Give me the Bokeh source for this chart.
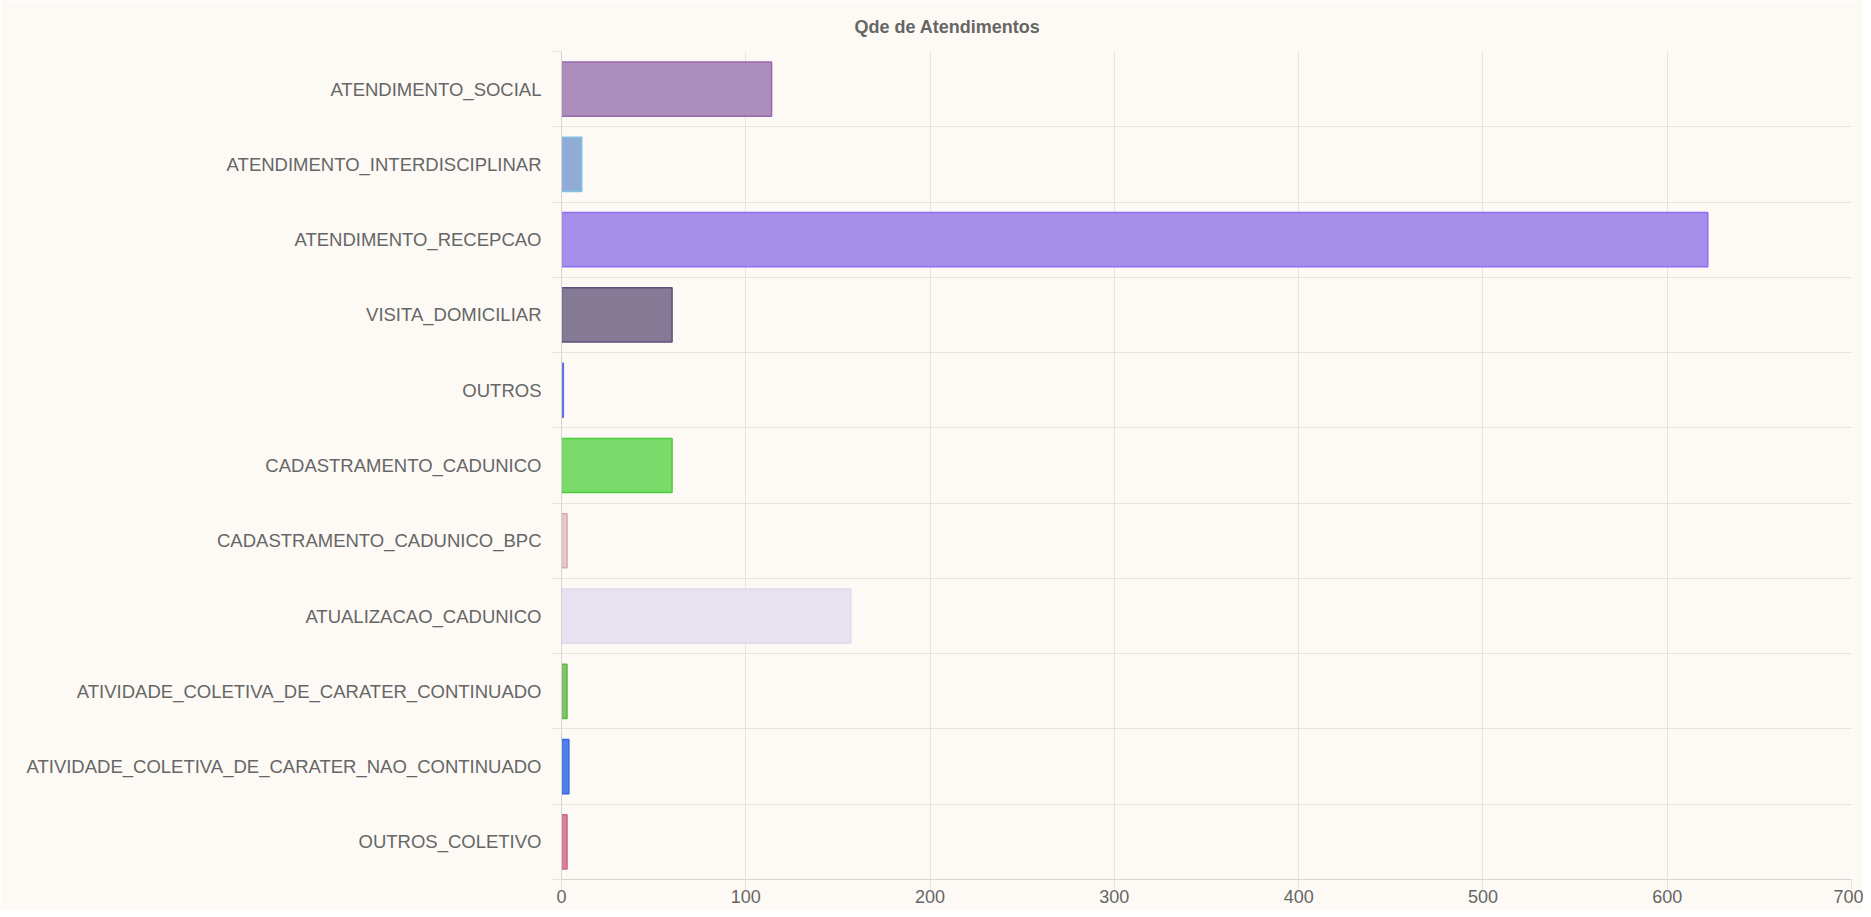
from bokeh.plotting import figure
from bokeh.models import ColumnDataSource, Range1d, FixedTicker, Title
from bokeh.embed import file_html
from bokeh.resources import INLINE

title_text = "Qde de Atendimentos"
categories = [
    "ATENDIMENTO_SOCIAL",
    "ATENDIMENTO_INTERDISCIPLINAR",
    "ATENDIMENTO_RECEPCAO",
    "VISITA_DOMICILIAR",
    "OUTROS",
    "CADASTRAMENTO_CADUNICO",
    "CADASTRAMENTO_CADUNICO_BPC",
    "ATUALIZACAO_CADUNICO",
    "ATIVIDADE_COLETIVA_DE_CARATER_CONTINUADO",
    "ATIVIDADE_COLETIVA_DE_CARATER_NAO_CONTINUADO",
    "OUTROS_COLETIVO",
]
values = [114, 11, 622, 60, 1, 60, 3, 157, 3, 4, 3]
fill_colors = ["#ad8dbb", "#90acd4", "#a58ee9", "#857a96", "#7f8fe0", "#7adb6a",
               "#e8c8cc", "#e6e2ef", "#80c46a", "#4f7fea", "#d9809c"]
line_colors = ["#9868b0", "#7ec3e6", "#8e6ef5", "#5c5078", "#5a6fe0", "#4ccc3c",
               "#d8a8b4", "#dedaea", "#60b848", "#3a66e0", "#c86888"]
x_ticks = [0, 100, 200, 300, 400, 500, 600, 700]

BG = "#fdfaf5"
GRID = "#e6e3de"
AXIS = "#d6d4d0"
TXT = "#666666"
FONT = "Liberation Sans"

n = len(categories)
# row index: first category at top
rows = [n - 1 - i for i in range(n)]
centers = list(range(n))
boundaries = [c - 0.5 for c in centers] + [n - 0.5]

src = ColumnDataSource(dict(row=rows, cat=categories, val=values, fill=fill_colors, line=line_colors))

p = figure(width=1863, height=910, output_backend="svg", toolbar_location=None,
           y_range=Range1d(-0.5, n - 0.5), x_range=Range1d(0, 700),
           min_border_left=561, min_border_right=12, min_border_top=50, min_border_bottom=31,
           background_fill_color=BG, border_fill_color=BG, outline_line_color=None)

ya = p.yaxis[0]
ya.ticker = FixedTicker(ticks=centers, minor_ticks=boundaries)
ya.major_label_overrides = {r: c for r, c in zip(rows, categories)}
ya.major_tick_out = 0
ya.major_tick_in = 0
ya.major_tick_line_color = None
ya.minor_tick_out = 10
ya.minor_tick_in = 0
ya.minor_tick_line_color = GRID
ya.axis_line_color = AXIS
ya.major_label_standoff = 10
ya.major_label_text_font = FONT
ya.major_label_text_font_size = "18.5px"
ya.major_label_text_color = TXT

p.ygrid.ticker = FixedTicker(ticks=boundaries)
p.ygrid.grid_line_color = GRID

xa = p.xaxis[0]
xa.ticker = FixedTicker(ticks=x_ticks, minor_ticks=[])
xa.major_tick_out = 10
xa.major_tick_in = 0
xa.major_tick_line_color = GRID
xa.minor_tick_line_color = None
xa.axis_line_color = AXIS
xa.major_label_standoff = 0
xa.major_label_text_font = FONT
xa.major_label_text_font_size = "18px"
xa.major_label_text_color = TXT

p.xgrid.ticker = FixedTicker(ticks=x_ticks)
p.xgrid.grid_line_color = GRID

p.hbar(y="row", right="val", left=0, height=0.72, source=src,
       fill_color="fill", line_color="line", line_width=1.5)

p.add_layout(Title(text=title_text, align="left", offset=293, standoff=29,
                   text_font=FONT, text_font_style="bold", text_font_size="18px",
                   text_color=TXT), "above")

open("out.html", "w").write(file_html(p, INLINE))
